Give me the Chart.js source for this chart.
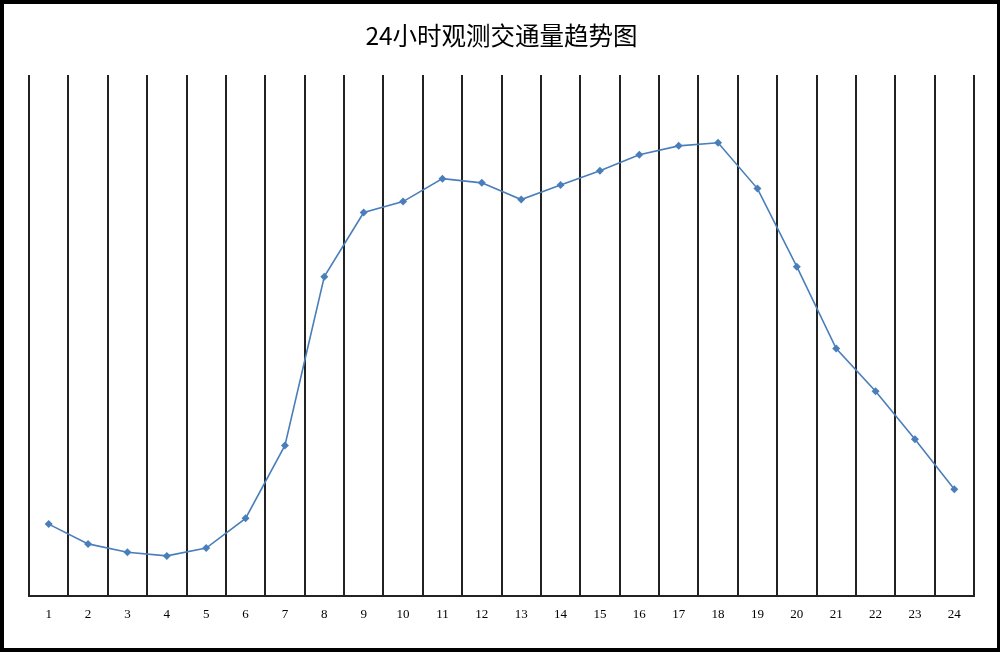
<!DOCTYPE html>
<html>
<head>
<meta charset="utf-8">
<script src="https://cdn.jsdelivr.net/npm/chart.js@4/dist/chart.umd.min.js"></script>
<style>
  html, body { margin: 0; padding: 0; background: #fff; }
  #frame {
    width: 993px; height: 644px;
    border-style: solid; border-color: #000;
    border-width: 4px 3px 4px 4px;
    background: #fff;
  }
  #chart { display: block; }
</style>
</head>
<body>
<div id="frame"><canvas id="chart" width="993" height="644"></canvas></div>
<script>
// ── 24h traffic trend ─────────────────────────────
var hours  = ['1','2','3','4','5','6','7','8','9','10','11','12',
              '13','14','15','16','17','18','19','20','21','22','23','24'];
var volume = [138, 100, 84, 77, 92, 149, 289, 613, 736, 757, 801, 793,
              761, 789, 816, 847, 864, 870, 782, 632, 475, 393, 301, 205];

var lineColor = '#4a7ebb';

new Chart(document.getElementById('chart').getContext('2d'), {
  type: 'line',
  data: {
    labels: hours,
    datasets: [{
      data: volume,
      borderColor: lineColor,
      borderWidth: 1.6,
      backgroundColor: lineColor,
      pointStyle: 'rectRot',
      pointRadius: 4,
      pointBorderWidth: 0,
      pointBackgroundColor: lineColor,
      tension: 0,
    }],
  },
  options: {
    responsive: false,
    animation: false,
    devicePixelRatio: 1,
    layout: { padding: { left: 25, right: 23, top: 0, bottom: 14.4 } },
    plugins: {
      legend: { display: false },
      tooltip: { enabled: false },
      title: {
        display: true,
        text: '24小时观测交通量趋势图',
        color: '#000',
        font: { family: '"Noto Sans CJK SC", sans-serif', size: 24.5, weight: 'normal', lineHeight: 1.2 },
        padding: { top: 17.3, bottom: 24.3 },
      },
    },
    scales: {
      x: {
        offset: true,
        grid: { offset: true, color: '#222', lineWidth: 2, drawTicks: false },
        border: { color: '#222', width: 2 },
        ticks: {
          color: '#000', padding: 11, maxRotation: 0, autoSkip: false,
          font: { family: '"Liberation Serif", serif', size: 13, lineHeight: 1.2 },
        },
      },
      y: { display: false, min: 0, max: 1000 },
    },
  },
});
</script>
</body>
</html>
